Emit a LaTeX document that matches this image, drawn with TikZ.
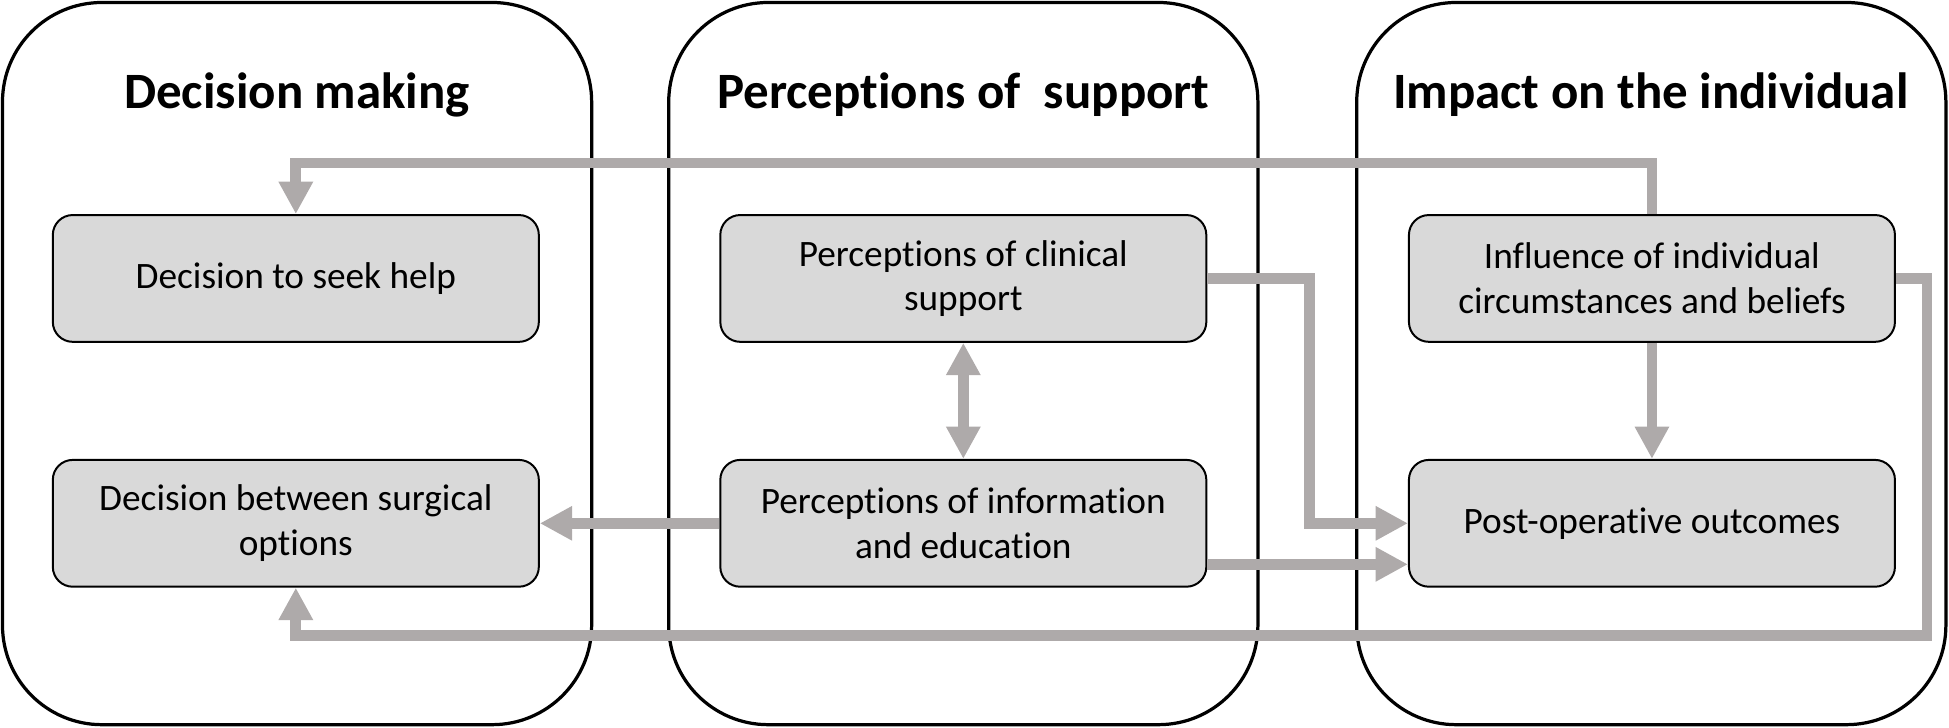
\documentclass[tikz,border=0pt]{standalone}
\usepackage{fontspec}
\setmainfont[Ligatures=NoCommon]{Carlito}
\usepackage{xcolor}
\usetikzlibrary{arrows.meta}

\definecolor{flowgray}{HTML}{AEAAAA}
\definecolor{boxgray}{HTML}{D9D9D9}

\tikzset{
  panel/.style={draw, line width=1.3pt, rounded corners=40pt,
    minimum width=237pt, minimum height=290.5pt},
  title/.style={font=\fontsize{20.5}{24}\selectfont\bfseries},
  item/.style={draw, line width=0.8pt, fill=boxgray, rounded corners=8pt,
    minimum width=195.5pt, minimum height=51pt, align=center,
    font=\fontsize{15}{18}\selectfont},
  flow/.style={draw=flowgray, line width=4.3pt,
    -{Triangle[width=13pt,length=13pt]}},
  flowboth/.style={flow, {Triangle[width=13pt,length=13pt]}-{Triangle[width=13pt,length=13pt]}}
}

\begin{document}
\begin{tikzpicture}[x=0.5pt, y=-0.5pt]
            \useasboundingbox (0,0) rectangle (1568,585);
            % Three columns
            \node[panel] (pdm) at (239,292.5) {};
            \node[panel] (pps) at (775,292.5) {};
            \node[panel] (pimp) at (1328.5,292.5) {};
            \node[title] (tdm) at (239,76) {Decision making};
            \node[title] (tps) at (775,76) {Perceptions of\ \ support};
            \node[title] (timp) at (1328,76) {Impact on the individual};

            % Boxes
            \node[item] (seek) at (238,224) {Decision to seek help};
            \node[item] (surg) at (238,421) {Decision between surgical\\options};
            \node[item] (clin) at (775,224) {Perceptions of clinical\\support};
            \node[item] (info) at (775,421) {Perceptions of information\\and education};
            \node[item] (infl) at (1329,224) {Influence of individual\\circumstances and beliefs};
            \node[item] (post) at (1329,421) {Post-operative outcomes};

            % Links
            \coordinate (low) at (0,511);
            \draw[flow] (infl.north) -- ++(0,-41) -| (seek.north);
            \draw[flow] (clin.east) -- ++(82,0) |- (post.west);
            \draw[flow] ([yshift=-16.5pt]info.east) -- ([yshift=-16.5pt]post.west);
            \draw[flow] (infl) -- (post);
            \draw[flow] (infl.east) -- ++(25,0) |- (surg.south |- low) -- (surg.south);
            \draw[flow] (info) -- (surg);
            \draw[flowboth] (clin) -- (info);

        \end{tikzpicture}
\end{document}
